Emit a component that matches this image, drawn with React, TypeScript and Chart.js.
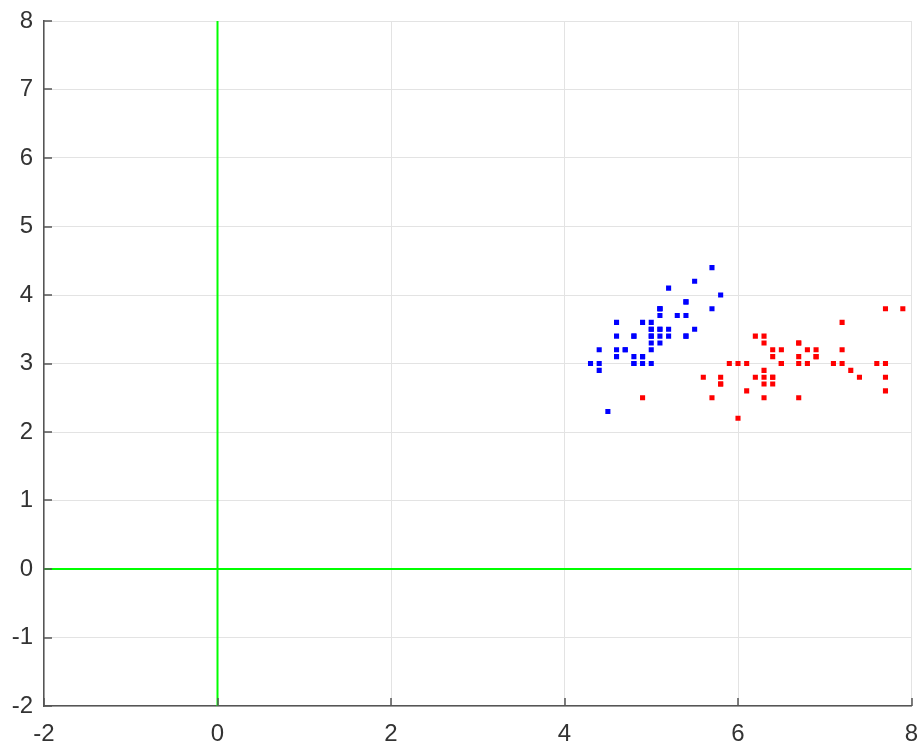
import { useEffect, useRef } from "react";
import { Chart, registerables } from "chart.js";
Chart.register(...registerables);

const setosaX = [5.1, 4.9, 4.7, 4.6, 5.0, 5.4, 4.6, 5.0, 4.4, 4.9, 5.4, 4.8, 4.8, 4.3, 5.8, 5.7, 5.4, 5.1, 5.7, 5.1, 5.4, 5.1, 4.6, 5.1, 4.8, 5.0, 5.0, 5.2, 5.2, 4.7, 4.8, 5.4, 5.2, 5.5, 4.9, 5.0, 5.5, 4.9, 4.4, 5.1, 5.0, 4.5, 4.4, 5.0, 5.1, 4.8, 5.1, 4.6, 5.3, 5.0];
const setosaY = [3.5, 3.0, 3.2, 3.1, 3.6, 3.9, 3.4, 3.4, 2.9, 3.1, 3.7, 3.4, 3.0, 3.0, 4.0, 4.4, 3.9, 3.5, 3.8, 3.8, 3.4, 3.7, 3.6, 3.3, 3.4, 3.0, 3.4, 3.5, 3.4, 3.2, 3.1, 3.4, 4.1, 4.2, 3.1, 3.2, 3.5, 3.6, 3.0, 3.4, 3.5, 2.3, 3.2, 3.5, 3.8, 3.0, 3.8, 3.2, 3.7, 3.3];
const virginicaX = [6.3, 5.8, 7.1, 6.3, 6.5, 7.6, 4.9, 7.3, 6.7, 7.2, 6.5, 6.4, 6.8, 5.7, 5.8, 6.4, 6.5, 7.7, 7.7, 6.0, 6.9, 5.6, 7.7, 6.3, 6.7, 7.2, 6.2, 6.1, 6.4, 7.2, 7.4, 7.9, 6.4, 6.3, 6.1, 7.7, 6.3, 6.4, 6.0, 6.9, 6.7, 6.9, 5.8, 6.8, 6.7, 6.7, 6.3, 6.5, 6.2, 5.9];
const virginicaY = [3.3, 2.7, 3.0, 2.9, 3.0, 3.0, 2.5, 2.9, 2.5, 3.6, 3.2, 2.7, 3.0, 2.5, 2.8, 3.2, 3.0, 3.8, 2.6, 2.2, 3.2, 2.8, 2.8, 2.7, 3.3, 3.2, 2.8, 3.0, 2.8, 3.0, 2.8, 3.8, 2.8, 2.8, 2.6, 3.0, 3.4, 3.1, 3.0, 3.1, 3.1, 3.1, 2.7, 3.2, 3.3, 3.0, 2.5, 3.0, 3.4, 3.0];
const xRange = [-2, 8];
const yRange = [-2, 8];
const xStep = 2;
const yStep = 1;

const AXIS = "#555555";
const FONT = { family: "'Liberation Sans', Arial, sans-serif", size: 24 };

const inwardTicks = {
  id: "inwardTicks",
  afterDatasetsDraw(chart: any) {
    const { ctx, chartArea, scales } = chart;
    const x = scales.x;
    const y = scales.y;
    ctx.save();
    ctx.strokeStyle = AXIS;
    ctx.lineWidth = 1.5;
    x.ticks.forEach((t: any) => {
      const px = Math.round(x.getPixelForValue(t.value));
      ctx.beginPath();
      ctx.moveTo(px, chartArea.bottom);
      ctx.lineTo(px, chartArea.bottom - 8);
      ctx.stroke();
    });
    y.ticks.forEach((t: any) => {
      const py = Math.round(y.getPixelForValue(t.value));
      ctx.beginPath();
      ctx.moveTo(chartArea.left, py);
      ctx.lineTo(chartArea.left + 8, py);
      ctx.stroke();
    });
    ctx.restore();
  },
};

export default function App() {
  const ref = useRef<HTMLCanvasElement | null>(null);
  useEffect(() => {
    if (!ref.current) return;
    const pts = (xs: number[], ys: number[]) => xs.map((v, i) => ({ x: v, y: ys[i] }));
    const chart = new Chart(ref.current, {
      type: "scatter",
      data: {
        datasets: [
          {
            data: pts(setosaX, setosaY),
            backgroundColor: "#0000ff",
            borderWidth: 0,
            pointStyle: "rect",
            pointRadius: 3.6,
            order: 0,
          },
          {
            data: pts(virginicaX, virginicaY),
            backgroundColor: "#ff0000",
            borderWidth: 0,
            pointStyle: "rect",
            pointRadius: 3.6,
            order: 0,
          },
          {
            data: [{ x: 0, y: yRange[0] }, { x: 0, y: yRange[1] }],
            showLine: true,
            borderColor: "#00ff00",
            borderWidth: 2,
            pointRadius: 0,
            order: 1,
          },
          {
            data: [{ x: xRange[0], y: 0 }, { x: xRange[1], y: 0 }],
            showLine: true,
            borderColor: "#00ff00",
            borderWidth: 2,
            pointRadius: 0,
            order: 1,
          },
        ],
      },
      options: {
        animation: false,
        responsive: true,
        maintainAspectRatio: false,
        layout: { padding: { left: 0, right: 11.5, top: 21, bottom: 4 } },
        plugins: { legend: { display: false }, tooltip: { enabled: false } },
        scales: {
          x: {
            type: "linear",
            min: xRange[0],
            max: xRange[1],
            ticks: { stepSize: xStep, font: FONT, color: "#333333", padding: 14, maxRotation: 0 },
            grid: { color: "#e3e3e3", lineWidth: 1, drawTicks: false },
            border: { display: true, color: AXIS, width: 1.5 },
            afterFit: (s: any) => {
              s.height = 42;
              s.paddingLeft = 0;
              s.paddingRight = 0;
            },
          },
          y: {
            type: "linear",
            min: yRange[0],
            max: yRange[1],
            ticks: { stepSize: yStep, font: FONT, color: "#333333", padding: 11 },
            grid: { color: "#e3e3e3", lineWidth: 1, drawTicks: false },
            border: { display: true, color: AXIS, width: 1.5 },
            afterFit: (s: any) => {
              s.width = 44;
              s.paddingTop = 0;
              s.paddingBottom = 0;
            },
          },
        },
      },
      plugins: [inwardTicks],
    });
    return () => chart.destroy();
  }, []);
  return (
    <div style={{ position: "fixed", left: 0, top: 0, width: 923, height: 752, background: "#fff" }}>
      <canvas ref={ref} />
    </div>
  );
}
